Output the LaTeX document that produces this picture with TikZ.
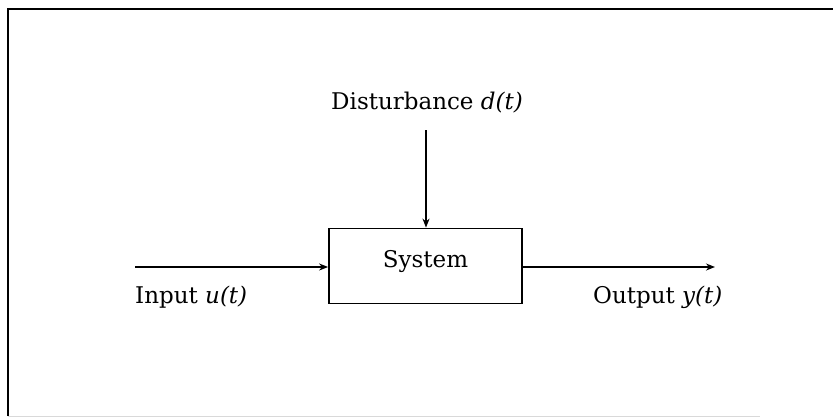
\documentclass[tikz,border=0pt]{standalone}
\usepackage{fontspec}
\setmainfont{DejaVu Serif}
\usetikzlibrary{arrows.meta}
\begin{document}
\begin{tikzpicture}[x=1pt,y=-1pt,
  lbl/.style={inner sep=0pt, font=\fontsize{23}{27}\selectfont},
  sysbox/.style={draw, line width=1.8pt, minimum width=193pt, minimum height=75pt, inner sep=0pt},
  sig/.style={line width=1.8pt, -{Stealth[length=9pt,width=7pt]}}]
\useasboundingbox (0,0) rectangle (833,418);
\draw[line width=2pt] (8,416) -- (8,9) -- (833,9);
\draw[line width=0.8pt, black!15] (8,416) -- (760,416);
\node[sysbox] (sys) at (425.5,266) {};
\node[lbl] (systxt) at (425.5,262) {System};
\node[lbl] (dist) at (427,103) {Disturbance \textit{d(t)}};
\coordinate (dtop) at (426,130);
\draw[sig] (dtop) -- (sys.north -| dtop);
\coordinate (uin) at (135,267);
\draw[sig] (uin) -- (sys.west |- uin);
\coordinate (yout) at (715,267);
\draw[sig] (sys.east |- yout) -- (yout);
\node[lbl, anchor=west] (ulbl) at (135,297) {Input \textit{u(t)}};
\node[lbl, anchor=west] (ylbl) at (593,297) {Output \textit{y(t)}};
\end{tikzpicture}
\end{document}
